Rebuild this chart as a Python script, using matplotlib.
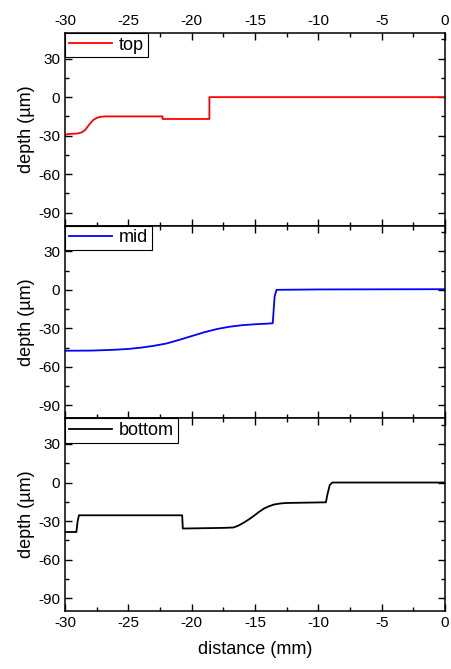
import matplotlib.pyplot as plt
from matplotlib.ticker import MultipleLocator

plt.rcParams['font.family'] = ['Liberation Sans', 'DejaVu Sans']
plt.rcParams['axes.unicode_minus'] = False

# surface profiles (distance in mm, depth in um)
top_x = [-30, -29.8, -29.0, -28.7, -28.4, -28.1, -27.8, -27.5, -27.2, -26.8,
         -22.3, -22.3, -18.6, -18.6, 0]
top_y = [-29.5, -28.8, -28.3, -27.5, -25.5, -21.5, -18.0, -16.2, -15.3, -15.0,
         -15.0, -17.0, -17.0, 0.0, 0.0]

mid_x = [-30, -28, -27, -26, -25, -24, -23, -22, -21, -20, -19, -18, -17,
         -16, -15, -14, -13.6, -13.45, -13.3, -10, 0]
mid_y = [-47.4, -47.3, -47.0, -46.6, -46.0, -45.0, -43.6, -41.8, -39.0, -36.0,
         -33.0, -30.5, -28.7, -27.5, -26.8, -26.3, -26.0, -5.0, 0.0, 0.3, 0.5]

bot_x = [-30, -29.1, -29.0, -28.9, -20.75, -20.7, -17.5, -16.7, -16.3, -15.9,
         -15.5, -15.1, -14.7, -14.3, -13.9, -13.5, -13.0, -12.5, -9.4, -9.3,
         -9.1, -8.9, 0]
bot_y = [-38.5, -38.5, -30.0, -25.5, -25.5, -35.8, -35.3, -35.0, -33.5, -31.3,
         -28.8, -26.0, -23.0, -20.3, -18.5, -17.1, -16.3, -15.9, -15.4, -10.0,
         -2.0, 0.0, 0.0]

series = [
    (top_x, top_y, 'red', 'top'),
    (mid_x, mid_y, 'blue', 'mid'),
    (bot_x, bot_y, 'black', 'bottom'),
]

fig = plt.figure(figsize=(4.51, 6.69), dpi=100)
left, width = 65 / 451, 380 / 451
h = 192.7 / 669
bottom0 = 58 / 669

for i, (x, y, color, name) in enumerate(series):
    ax = fig.add_axes([left, bottom0 + (2 - i) * h, width, h])
    ax.plot(x, y, color=color, lw=1.3, label=name)
    ax.set_xlim(-30, 0)
    ax.set_ylim(-100, 50)
    ax.xaxis.set_major_locator(MultipleLocator(5))
    ax.xaxis.set_minor_locator(MultipleLocator(2.5))
    ax.yaxis.set_major_locator(MultipleLocator(30))
    ax.yaxis.set_minor_locator(MultipleLocator(15))
    ax.tick_params(which='both', direction='in', top=True, right=True,
                   labelsize=11, width=1.0)
    ax.tick_params(which='major', length=5)
    ax.tick_params(which='minor', length=3)
    ax.tick_params(axis='x', labeltop=(i == 0), labelbottom=(i == 2))
    for s in ax.spines.values():
        s.set_linewidth(1.1)
    ax.set_ylabel('depth (µm)', fontsize=13, labelpad=2)
    leg = ax.legend(loc='upper left', fontsize=13, frameon=True, fancybox=False,
                    borderaxespad=0, handlelength=2.4, handletextpad=0.4,
                    borderpad=0.2, framealpha=1)
    leg.get_frame().set_edgecolor('black')
    leg.get_frame().set_linewidth(0.8)
    if i == 2:
        ax.set_xlabel('distance (mm)', fontsize=13, labelpad=8)

fig.savefig('out.png', dpi=100)
